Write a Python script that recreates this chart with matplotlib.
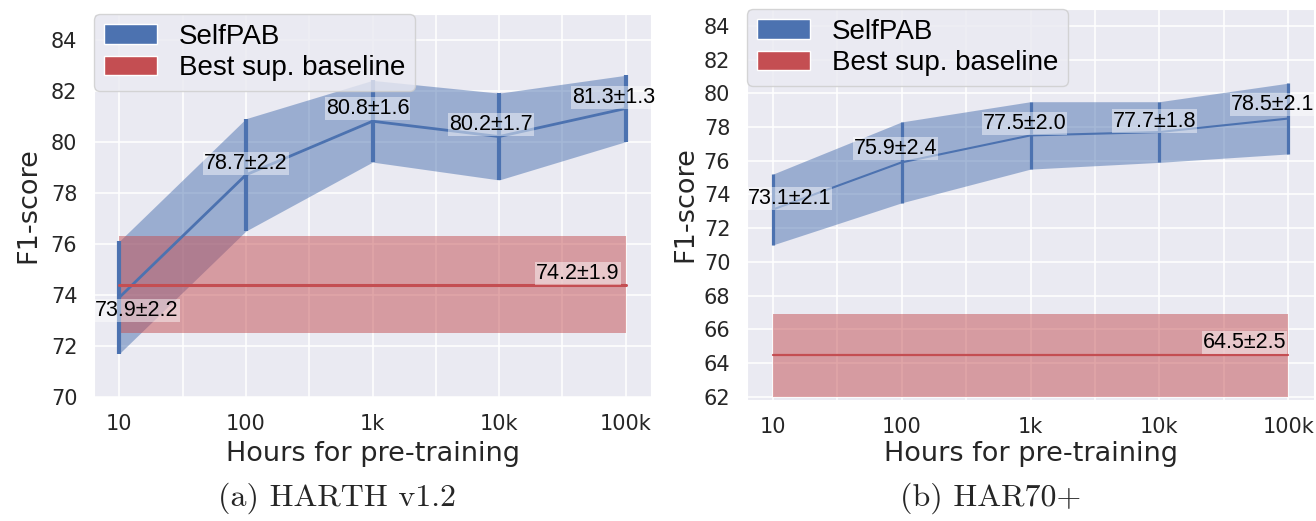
import numpy as np
import matplotlib
matplotlib.use("Agg")
import matplotlib.pyplot as plt
import seaborn as sns
from matplotlib.patches import Patch
from matplotlib.ticker import FixedLocator, NullFormatter

# data
hours = [10, 100, 1000, 10000, 100000]
hour_labels = ["10", "100", "1k", "10k", "100k"]

harth_mean = [73.9, 78.7, 80.8, 80.2, 81.3]
harth_std = [2.2, 2.2, 1.6, 1.7, 1.3]
harth_base_mean = 74.4
harth_base_std = 1.9
harth_base_text = "74.2±1.9"

har70_mean = [73.1, 75.9, 77.5, 77.7, 78.5]
har70_std = [2.1, 2.4, 2.0, 1.8, 2.1]
har70_base_mean = 64.45
har70_base_std = 2.45
har70_base_text = "64.5±2.5"

blue = "#4C72B0"
red = "#C44E52"

sns.set_style("darkgrid")
plt.rcParams["font.family"] = ["DejaVu Sans"]

fig = plt.figure(figsize=(13.16, 5.21), dpi=100)

W, H = 1316.0, 521.0


def px_axes(x0, y0, x1, y1):
    return fig.add_axes([x0 / W, 1 - y1 / H, (x1 - x0) / W, (y1 - y0) / H])


def draw(ax, mean, std, base_mean, base_std, base_text, ylim, yticks,
         lw_line, lw_err, lw_base, offs, base_off, xlab_y, ylab_x):
    mean = np.array(mean)
    std = np.array(std)
    ax.fill_between(hours, mean - std, mean + std, color=blue, alpha=0.5, lw=0)
    ax.plot(hours, mean, color=blue, lw=lw_line)
    ax.errorbar(hours, mean, yerr=std, fmt="none", ecolor=blue, elinewidth=lw_err, capsize=0)
    ax.fill_between([hours[0], hours[-1]], base_mean - base_std, base_mean + base_std,
                    color=red, alpha=0.5, lw=0)
    ax.plot([hours[0], hours[-1]], [base_mean, base_mean], color=red, lw=lw_base)

    box = dict(boxstyle="square,pad=0.05", facecolor="white", alpha=0.45, edgecolor="none")
    for x, m, s, (dx, dy, ha) in zip(hours, mean, std, offs):
        ax.annotate(f"{m:.1f}±{s:.1f}", (x, m), xytext=(dx, dy), textcoords="offset pixels",
                    ha=ha, va="center", fontsize=15.5, family="Liberation Sans", color="black",
                    bbox=box, annotation_clip=False)
    ax.annotate(base_text, (hours[-1], base_mean), xytext=base_off[:2], textcoords="offset pixels",
                ha=base_off[2], va="center", fontsize=15.5, family="Liberation Sans",
                color="black", bbox=box)

    ax.set_xscale("log")
    ax.xaxis.set_major_locator(FixedLocator(hours))
    ax.set_xticklabels(hour_labels)
    ax.xaxis.set_minor_locator(FixedLocator([10 ** 1.5, 10 ** 2.5, 10 ** 3.5, 10 ** 4.5]))
    ax.xaxis.set_minor_formatter(NullFormatter())
    ax.grid(True, which="both", color="white", lw=1.1)
    ax.set_ylim(*ylim)
    ax.set_yticks(yticks)
    ax.tick_params(axis="both", which="both", length=0, labelsize=15, pad=12, colors="#262626")
    ax.set_xlabel("Hours for pre-training", fontsize=19.5, color="#262626")
    ax.set_ylabel("F1-score", fontsize=19.5, color="#262626")
    ax.xaxis.set_label_coords(0.5, xlab_y)
    ax.yaxis.set_label_coords(ylab_x, 0.5)

    handles = [Patch(facecolor=blue, edgecolor="white", label="SelfPAB"),
               Patch(facecolor=red, edgecolor="white", label="Best sup. baseline")]
    leg = ax.legend(handles=handles, loc="upper left", borderaxespad=0, frameon=True,
                    prop={"family": "Liberation Sans", "size": 20}, labelspacing=0.2,
                    borderpad=0.35, handletextpad=0.8, handlelength=1.9, handleheight=0.7)
    for t in leg.get_texts():
        t.set_color("black")


ax1 = px_axes(94, 14, 651, 397)
draw(ax1, harth_mean, harth_std, harth_base_mean, harth_base_std, harth_base_text,
     (70, 85), np.arange(70, 85, 2), 2.0, 3.0, 2.2,
     [(-24, -13, "left"), (0, 11, "center"), (-5, 13, "center"), (-8, 12, "center"), (30, 11, "right")],
     (-6, 11, "right"), -0.115, -0.095)

ax2 = px_axes(747, 9, 1314, 400)
draw(ax2, har70_mean, har70_std, har70_base_mean, har70_base_std, har70_base_text,
     (61.8, 85), np.arange(62, 85, 2), 1.5, 2.3, 1.6,
     [(-25, 11, "left"), (-6, 14, "center"), (-6, 12, "center"), (-5, 11, "center"), (26, 14, "right")],
     (-2, 13, "right"), -0.105, -0.086)

fig.text(337.5 / W, 1 - 506 / H, "(a) HARTH v1.2", family="cmr10", fontsize=23,
         ha="center", va="baseline")
fig.text(991 / W, 1 - 506 / H, "(b) HAR70+", family="cmr10", fontsize=23,
         ha="center", va="baseline")

fig.savefig("out.png", dpi=100)
